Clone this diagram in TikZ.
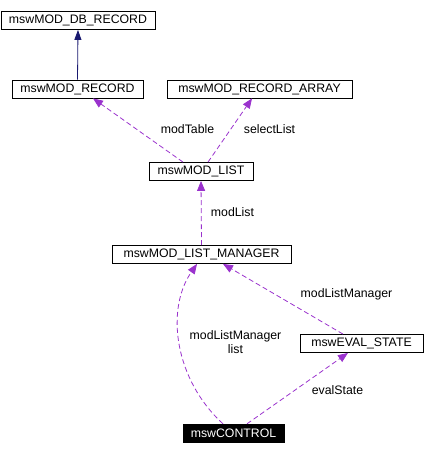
\documentclass[tikz,border=0pt]{standalone}
\usepackage{fontspec}
\setmainfont{Liberation Sans}
\usetikzlibrary{arrows.meta,calc}
\definecolor{edgepurple}{HTML}{9A32CD}
\definecolor{edgenavy}{HTML}{191970}
\begin{document}
\begin{tikzpicture}[x=1bp,y=-1bp,
  font=\fontsize{12.3bp}{14.5bp}\selectfont,
  cls/.style={draw=black,line width=0.8bp,fill=white,inner sep=0pt,minimum height=18bp},
  ctl/.style={draw=black,fill=black,text=white,inner sep=0pt,minimum height=18bp},
  uses/.style={draw=edgepurple,line width=0.8bp,dash pattern=on 5bp off 3bp,
    -{Triangle[length=10bp,width=8bp,fill=edgepurple]}},
  inh/.style={draw=edgenavy,line width=0.8bp,-{Triangle[length=10bp,width=7bp,fill=edgenavy]}},
  lbl/.style={inner sep=0pt,align=center}]
\useasboundingbox (0,0) rectangle (424,455);
\node[cls,minimum width=154bp] (dbrec) at (78,20.5) {mswMOD\_DB\_RECORD};
\node[cls,minimum width=131bp] (rec) at (77.5,89) {mswMOD\_RECORD};
\node[cls,minimum width=185bp] (arr) at (259.5,89) {mswMOD\_RECORD\_ARRAY};
\node[cls,minimum width=104bp] (list) at (201,171.5) {mswMOD\_LIST};
\node[cls,minimum width=179bp] (mgr) at (201.5,254.5) {mswMOD\_LIST\_MANAGER};
\node[cls,minimum width=123bp] (eval) at (361.5,343.5) {mswEVAL\_STATE};
\node[ctl,minimum width=101bp] (ctrl) at (233.5,433) {mswCONTROL};

\draw[inh] (rec.north) -- (dbrec.south);
\draw[uses] ($(list.north)+(-18,0)$) -- ($(rec.south)+(15.5,0)$);
\draw[uses] ($(list.north)+(7,0)$) -- ($(arr.south)+(-7.5,0)$);
\draw[uses] (mgr.north) -- (list.south);
\draw[uses] ($(eval.north)+(-18.5,0)$) -- ($(mgr.south)+(21.5,0)$);
\draw[uses] ($(ctrl.north)+(-10.5,0)$) .. controls (175,380) and (165,310) .. ($(mgr.south)+(-4.5,0)$);
\draw[uses] ($(ctrl.north)+(13.5,0)$) -- ($(eval.south)+(-13.5,0)$);

\node[lbl] (l1) at (187.5,129) {modTable};
\node[lbl] (l2) at (269.5,129) {selectList};
\node[lbl] (l3) at (232.5,212) {modList};
\node[lbl] (l4) at (346.5,294) {modListManager};
\node[lbl] (l5) at (235.5,342) {modListManager\\list};
\node[lbl] (l6) at (337.5,390) {evalState};
\end{tikzpicture}
\end{document}
